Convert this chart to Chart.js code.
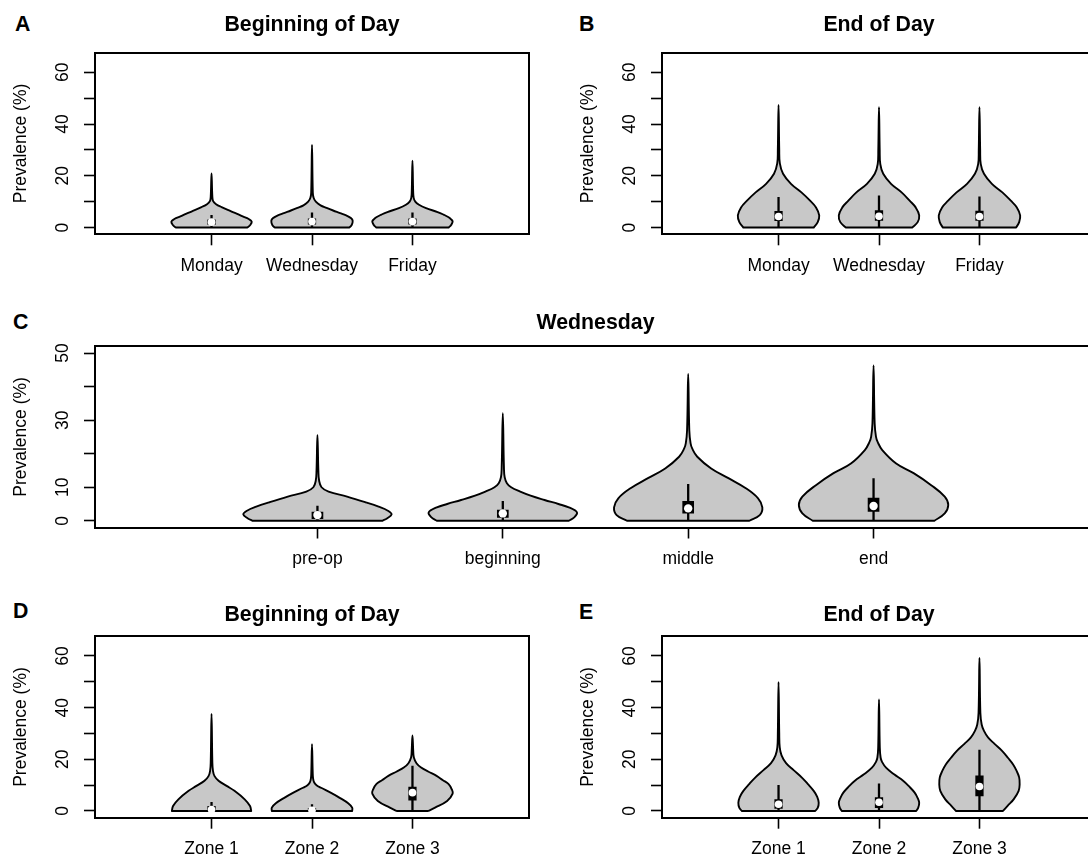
<!DOCTYPE html>
<html>
<head>
<meta charset="utf-8">
<script src="https://cdn.jsdelivr.net/npm/chart.js@4.4.1/dist/chart.umd.min.js"></script>
<style>
  html, body { margin: 0; padding: 0; background: #fff; overflow: hidden; }
  body { width: 1088px; height: 858px; position: relative; font-family: 'Liberation Sans', Arial, sans-serif; }
  canvas.panel { position: absolute; }
  .tag { position: absolute; font: bold 21.3px 'Liberation Sans', Arial, sans-serif; line-height: 21px; color: #000; }
</style>
</head>
<body>
<div class="tag" style="left:15px;top:14px">A</div>
<div class="tag" style="left:579px;top:14px">B</div>
<div class="tag" style="left:13px;top:312px">C</div>
<div class="tag" style="left:13px;top:601px">D</div>
<div class="tag" style="left:579px;top:602px">E</div>

<canvas id="panelA" class="panel" width="624" height="290" style="left:0;top:0"></canvas>
<canvas id="panelB" class="panel" width="624" height="290" style="left:567px;top:0"></canvas>
<canvas id="panelC" class="panel" width="1191" height="290" style="left:0;top:297px"></canvas>
<canvas id="panelD" class="panel" width="624" height="268" style="left:0;top:590px"></canvas>
<canvas id="panelE" class="panel" width="624" height="268" style="left:567px;top:590px"></canvas>

<script>
// ---------- categories and axis ticks ----------
const weekdays = ['Monday', 'Wednesday', 'Friday'];
const periods = ['pre-op', 'beginning', 'middle', 'end'];
const zones = ['Zone 1', 'Zone 2', 'Zone 3'];

const ticks65 = [0, 10, 20, 30, 40, 50, 60];
const ticks65Labels = ['0', '', '20', '', '40', '', '60'];
const ticks50 = [0, 10, 20, 30, 40, 50];
const ticks50Labels = ['0', '10', '', '30', '', '50'];

// ---------- density outlines: [prevalence (%), half-width in category units] ----------
// Beginning of day, by weekday
const begMonday    = [[0,.355],[1,.385],[2.3,.40],[3.3,.37],[4.3,.31],[5.3,.255],[6.3,.195],[7.9,.10],[9,.045],[10.2,.016],[12,.008],[20.9,0]];
const begWednesday = [[0,.37],[1,.395],[2.6,.405],[3.6,.39],[4.7,.34],[5.6,.28],[6.6,.21],[7.6,.145],[8.6,.085],[10,.038],[11.5,.016],[13.5,.008],[31.9,0]];
const begFriday    = [[0,.36],[1,.385],[2.3,.40],[3.2,.385],[4,.36],[5,.31],[6,.25],[7.5,.135],[8.8,.065],[10,.028],[11.5,.012],[14,.007],[25.8,0]];
// End of day, by weekday
const endMonday    = [[0,.35],[2.1,.39],[4.7,.405],[7.8,.373],[10.4,.314],[13.6,.228],[16.9,.124],[20.8,.045],[24.8,.013],[30,.007],[47.4,0]];
const endWednesday = [[0,.33],[2.1,.385],[4.7,.40],[7.8,.365],[10.4,.305],[13.6,.225],[16.9,.12],[20.8,.042],[24.5,.013],[30,.007],[46.5,0]];
const endFriday    = [[0,.365],[2.1,.395],[4.7,.405],[7.8,.372],[10.4,.312],[13.6,.228],[16.9,.124],[20.8,.045],[24.5,.013],[30,.007],[46.5,0]];
// Wednesday, by time of day
const wedPreop     = [[0,.35],[0.7,.375],[1.9,.40],[3,.38],[4.2,.33],[5.5,.26],[7.2,.16],[8.7,.06],[10,.022],[12,.009],[15,.005],[25.6,0]];
const wedBeginning = [[0,.356],[1,.385],[2.5,.40],[4,.356],[5,.30],[6.2,.225],[7.5,.15],[8.7,.094],[10,.045],[11.2,.022],[13,.01],[16,.006],[32.1,0]];
const wedMiddle    = [[0,.33],[1.7,.386],[4,.40],[6.7,.377],[9.7,.311],[12.7,.217],[15.6,.124],[19.1,.049],[21.5,.022],[23.1,.013],[27,.006],[43.8,0]];
const wedEnd       = [[0,.328],[2.2,.384],[4.7,.403],[7.2,.384],[10.7,.309],[14.2,.216],[17.1,.122],[21.1,.047],[23.5,.022],[25.1,.013],[29,.006],[46.3,0]];
// Beginning of day, by zone
const begZone1 = [[0,.395],[1.9,.383],[4.5,.33],[7.8,.228],[9.7,.15],[11.7,.07],[13.5,.03],[15.6,.014],[19,.008],[37.6,0]];
const begZone2 = [[0,.40],[1.3,.40],[3,.36],[5,.28],[7,.19],[9,.09],[10,.045],[11,.022],[12.5,.011],[15,.007],[25.9,0]];
const begZone3 = [[0,.155],[1.3,.225],[3.9,.345],[6.7,.40],[8.5,.39],[10.4,.36],[12,.30],[13.6,.24],[15.2,.16],[16.8,.086],[18.5,.04],[20.7,.014],[23,.008],[29.2,0]];
// End of day, by zone
const endZone1 = [[0,.365],[1.2,.39],[3.2,.40],[5.5,.385],[7.8,.35],[10.5,.29],[13,.23],[15.8,.15],[18.5,.075],[21.5,.03],[24.6,.012],[30,.007],[49.9,0]];
const endZone2 = [[0,.37],[1.2,.39],[3.2,.40],[5,.385],[7.1,.355],[9.5,.30],[11.7,.24],[14.2,.15],[16.8,.07],[19,.03],[20.7,.016],[24.6,.008],[43.2,0]];
const endZone3 = [[0,.234],[2,.28],[4.5,.34],[7.8,.39],[10.5,.40],[13,.395],[15.5,.37],[18,.335],[20.5,.285],[23.3,.225],[26,.15],[28.5,.085],[31,.045],[33.5,.022],[38,.009],[59.2,0]];

// ---------- box-plot summaries: lower whisker, Q1, median, Q3, upper whisker ----------
const begLow = [0, 0, 0],   begQ1 = [1.2, 1.3, 1.3], begMedian = [2.1, 2.3, 2.3], begQ3 = [3.0, 3.4, 3.4], begHigh = [4.9, 5.8, 5.8];
const endLow = [0, 0, 0],   endQ1 = [2.7, 2.8, 2.8], endMedian = [4.3, 4.4, 4.3], endQ3 = [6.3, 6.6, 6.4], endHigh = [11.8, 12.4, 12.0];
const wedLow = [0, 0, 0, 0], wedQ1 = [0.6, 1.0, 2.3, 2.8], wedMedian = [1.7, 2.2, 3.7, 4.4], wedQ3 = [2.6, 3.2, 5.8, 6.8], wedHigh = [4.5, 5.9, 11.0, 12.7];
const zBegLow = [0, 0, 0],  zBegQ1 = [0, 0, 4.2], zBegMedian = [0.6, 0.3, 7.1], zBegQ3 = [1.8, 1.0, 9.3], zBegHigh = [3.5, 2.6, 17.5];
const zEndLow = [0, 0, 0],  zEndQ1 = [1.0, 1.3, 5.8], zEndMedian = [2.6, 3.4, 9.5], zEndQ3 = [4.4, 5.2, 13.6], zEndHigh = [10.1, 10.6, 23.7];

// ---------- drawing helpers ----------
const FONT = "'Liberation Sans', Arial, sans-serif";
Chart.defaults.font.family = FONT;
Chart.defaults.color = '#000';

// Closed violin outline: up the left side, down the right side, back along the base.
function violinOutline(center, profile) {
  const left = profile.map(([v, w]) => ({x: center - w, y: v}));
  const right = profile.slice(0, -1).reverse().map(([v, w]) => ({x: center + w, y: v}));
  const baseRight = right[right.length - 1];
  // base corners are doubled so the curve tension keeps the base flat
  return [...left, ...right, {x: baseRight.x, y: baseRight.y}, {x: left[0].x, y: left[0].y}];
}

function panelDatasets(profiles, low, q1, med, q3, high, boxPx, dotR) {
  const ds = [];
  profiles.forEach((p, i) => {
    ds.push({
      type: 'line', data: violinOutline(i + 1, p), xAxisID: 'x', yAxisID: 'y',
      borderColor: '#000', borderWidth: 1.9, backgroundColor: '#c8c8c8', fill: 'shape',
      tension: 0.4, pointRadius: 0, borderJoinStyle: 'round', borderCapStyle: 'round', order: 4
    });
    ds.push({
      type: 'line', data: [{x: i + 1, y: low[i]}, {x: i + 1, y: high[i]}], xAxisID: 'x', yAxisID: 'y',
      borderColor: '#000', borderWidth: 2.3, pointRadius: 0, fill: false, order: 3
    });
  });
  ds.push({
    type: 'bar', data: q1.map((v, i) => ({x: i + 1, y: [v, q3[i]]})), xAxisID: 'x', yAxisID: 'y',
    backgroundColor: '#000', borderWidth: 0, barThickness: boxPx, order: 2
  });
  ds.push({
    type: 'line', data: med.map((v, i) => ({x: i + 1, y: v})), xAxisID: 'x', yAxisID: 'y',
    showLine: false, pointRadius: dotR, pointBackgroundColor: '#fff', pointBorderWidth: 0, fill: false, order: 1
  });
  return ds;
}

const frameBorder = {display: true, color: '#000', width: 2};

function makePanel(id, cfg) {
  return new Chart(document.getElementById(id), {
    type: 'line',
    data: {datasets: cfg.datasets},
    options: {
      responsive: false, animation: false, events: [],
      layout: {padding: 0},
      plugins: {
        legend: {display: false},
        tooltip: {enabled: false},
        title: {
          display: true, text: cfg.title, color: '#000',
          font: {family: FONT, size: 21.3, weight: 'bold', lineHeight: 1.2},
          padding: {top: cfg.titleTop, bottom: cfg.titleBottom}
        }
      },
      scales: {
        x: {
          type: 'linear', position: 'bottom', min: cfg.xMin, max: cfg.xMax, offset: false, bounds: 'data',
          afterBuildTicks: a => { a.ticks = cfg.cats.map((_, i) => ({value: i + 1})); },
          afterFit: a => { a.height = cfg.xAxisH; },
          ticks: {
            autoSkip: false, minRotation: 0, maxRotation: 0, padding: 10.2, color: '#000',
            font: {family: FONT, size: 17.5},
            callback: (v, i) => cfg.cats[i]
          },
          grid: {display: true, drawOnChartArea: false, drawTicks: true, tickLength: 11, tickColor: '#000', tickWidth: 1.6, offset: false},
          border: frameBorder
        },
        y: {
          type: 'linear', position: 'left', min: cfg.yMin, max: cfg.yMax, bounds: 'data',
          afterBuildTicks: a => { a.ticks = cfg.yTicks.map(v => ({value: v})); },
          afterFit: a => { a.width = 95; },
          ticks: {
            autoSkip: false, minRotation: 90, maxRotation: 90, crossAlign: 'center', padding: 10.7, color: '#000',
            font: {family: FONT, size: 17.5},
            callback: (v, i) => cfg.yLabels[i]
          },
          grid: {display: true, drawOnChartArea: false, drawTicks: true, tickLength: 11, tickColor: '#000', tickWidth: 1.6},
          border: frameBorder,
          title: {display: true, text: 'Prevalence (%)', color: '#000', font: {family: FONT, size: 17.5}, padding: {top: 11, bottom: 0}}
        },
        x2: {
          type: 'linear', position: 'top', display: true,
          grid: {display: false}, ticks: {display: false}, border: frameBorder,
          afterFit: a => { a.height = 0; }
        },
        y2: {
          type: 'linear', position: 'right', display: true,
          grid: {display: false}, ticks: {display: false}, border: frameBorder,
          afterFit: a => { a.width = 95; }
        }
      }
    }
  });
}

// A — beginning of day, weekdays
makePanel('panelA', {
  title: 'Beginning of Day', titleTop: 12.0, titleBottom: 15.1, xAxisH: 55.7,
  cats: weekdays, xMin: -0.16, xMax: 4.16, yMin: -2.6, yMax: 67.6,
  yTicks: ticks65, yLabels: ticks65Labels,
  datasets: panelDatasets([begMonday, begWednesday, begFriday], begLow, begQ1, begMedian, begQ3, begHigh, 7.6, 3.8)
});

// B — end of day, weekdays
makePanel('panelB', {
  title: 'End of Day', titleTop: 12.0, titleBottom: 15.1, xAxisH: 55.7,
  cats: weekdays, xMin: -0.16, xMax: 4.16, yMin: -2.6, yMax: 67.6,
  yTicks: ticks65, yLabels: ticks65Labels,
  datasets: panelDatasets([endMonday, endWednesday, endFriday], endLow, endQ1, endMedian, endQ3, endHigh, 7.6, 3.8)
});

// C — Wednesday, time points
makePanel('panelC', {
  title: 'Wednesday', titleTop: 13.3, titleBottom: 10.5, xAxisH: 59.5,
  cats: periods, xMin: -0.2, xMax: 5.2, yMin: -2, yMax: 52,
  yTicks: ticks50, yLabels: ticks50Labels,
  datasets: panelDatasets([wedPreop, wedBeginning, wedMiddle, wedEnd], wedLow, wedQ1, wedMedian, wedQ3, wedHigh, 11, 4.2)
});

// D — beginning of day, zones
makePanel('panelD', {
  title: 'Beginning of Day', titleTop: 12.3, titleBottom: 8.5, xAxisH: 40.3,
  cats: zones, xMin: -0.16, xMax: 4.16, yMin: -2.6, yMax: 67.6,
  yTicks: ticks65, yLabels: ticks65Labels,
  datasets: panelDatasets([begZone1, begZone2, begZone3], zBegLow, zBegQ1, zBegMedian, zBegQ3, zBegHigh, 7.6, 3.8)
});

// E — end of day, zones
makePanel('panelE', {
  title: 'End of Day', titleTop: 12.3, titleBottom: 8.5, xAxisH: 40.3,
  cats: zones, xMin: -0.16, xMax: 4.16, yMin: -2.6, yMax: 67.6,
  yTicks: ticks65, yLabels: ticks65Labels,
  datasets: panelDatasets([endZone1, endZone2, endZone3], zEndLow, zEndQ1, zEndMedian, zEndQ3, zEndHigh, 7.6, 3.8)
});
</script>
</body>
</html>
